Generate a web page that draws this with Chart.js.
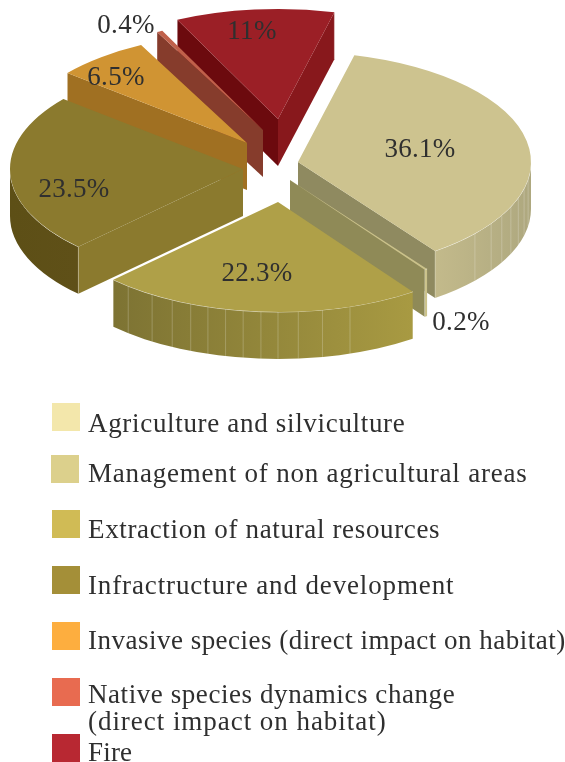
<!DOCTYPE html>
<html>
<head>
<meta charset="utf-8">
<style>
  html, body { margin: 0; padding: 0; background: #fff; }
  canvas { display: block; }
</style>
<script src="https://cdn.jsdelivr.net/npm/chart.js@4"></script>
</head>
<body>
<canvas id="myChart" width="565" height="762"></canvas>
<script>
const categories = [
  "Agriculture and silviculture",
  "Management of non agricultural areas",
  "Extraction of natural resources",
  "Infractructure and development",
  "Invasive species (direct impact on habitat)",
  "Native species dynamics change",
  "Fire",
];
const values = [36.1, 0.2, 22.3, 23.5, 6.5, 0.4, 11];

// colours
const legendColors = ["#f3e7ab", "#dcd08c", "#d0bb55", "#a48f38", "#fdae3f", "#e86b50", "#b82832"];
const topColors = ["#cdc38f", "#cbc28a", "#afa048", "#8b7a2e", "#d09433", "#c0604a", "#9b1f26"];
const rimColors = [["#c3ba8b", "#aea87f"], ["#cbc28a", "#cbc28a"], ["#7d7333", "#a89a42"], ["#5d4f16", "#5f5018"], ["#a07022", "#a07022"], ["#863c2c", "#863c2c"], ["#88181c", "#88181c"]];
const startWallColors = ["#88181c", "#8f8a57", "#7d7333", "#8b7a2e", "#a07022", "#863c2c", "#6c0a0e"];
const endWallColors = ["#8f8a60", "#8f8a57", "#a89a42", "#8b7a2e", "#a07022", "#863c2c", "#88181c"];

// how far each slice is pulled away from the pie centre
const explode = [[15.5, -3], [7.5, 15], [-4.5, 37], [-39.5, 4], [-35.5, -22], [-19.5, -35], [-4.5, -46]];
const paintOrder = [6, 5, 4, 0, 1, 3, 2];
const facets = [[9, 14, 19, 24, 29, 34, 40.6], [], [72, 79, 85, 90, 94.2, 98.6, 103, 107.5, 112, 117, 122.7, 130], [], [], [], []];

// value labels: centre x, baseline y
const labelPos = [[420, 157], [461, 330], [257, 281], [74, 197], [116, 85], [126, 33], [252, 39]];

// legend rows: box top, text baselines, letter spacing to reach the old line widths
const legendTops = [403, 455, 510, 566, 622, 678, 734];
const legendBoxX = [52, 51, 52, 52, 52, 52, 52];
const legendBase = [432, 482, 538, 594, 649, 703, 761];
const legendSpacing = [0.68, 0.8, 0.65, 0.87, 0.49, 0.57, 0.2];

const FONT = '27px "Liberation Serif"';
const TEXT_COLOR = "#2f2f2f";
const RX = 233;
const RY = 110;
const DEPTH = 47;

function ptAt(a, r, ang) {
  return { x: a.x + Math.cos(ang) * r, y: a.y + Math.sin(ang) * r * (RY / RX) };
}

function drawRim(ctx, a, i, from, to) {
  const s = Math.max(from, 0);
  const e = Math.min(to, Math.PI);
  if (e <= s) return;
  const p0 = ptAt(a, RX, s);
  const p1 = ptAt(a, RX, e);
  const g = ctx.createLinearGradient(p1.x, 0, p0.x, 0);
  g.addColorStop(0, rimColors[i][0]);
  g.addColorStop(1, rimColors[i][1]);
  ctx.fillStyle = g;
  ctx.beginPath();
  ctx.ellipse(a.x, a.y, RX, RY, 0, s, e);
  ctx.ellipse(a.x, a.y + DEPTH, RX, RY, 0, e, s, true);
  ctx.closePath();
  ctx.fill();
  ctx.strokeStyle = "rgba(255,255,255,0.22)";
  ctx.lineWidth = 1;
  facets[i].forEach((deg) => {
    const p = ptAt(a, RX, (deg * Math.PI) / 180);
    ctx.beginPath();
    ctx.moveTo(p.x, p.y);
    ctx.lineTo(p.x, p.y + DEPTH);
    ctx.stroke();
  });
  ctx.strokeStyle = "rgba(255,255,255,0.6)";
  ctx.beginPath();
  ctx.ellipse(a.x, a.y, RX, RY, 0, s, e);
  ctx.stroke();
}

function drawWall(ctx, a, ang, color) {
  const p = ptAt(a, RX, ang);
  ctx.fillStyle = color;
  ctx.beginPath();
  ctx.moveTo(a.x, a.y);
  ctx.lineTo(p.x, p.y);
  ctx.lineTo(p.x, p.y + DEPTH);
  ctx.lineTo(a.x, a.y + DEPTH);
  ctx.closePath();
  ctx.fill();
  ctx.strokeStyle = "rgba(255,255,255,0.25)";
  ctx.lineWidth = 1;
  ctx.beginPath();
  ctx.moveTo(p.x, p.y);
  ctx.lineTo(p.x, p.y + DEPTH);
  ctx.stroke();
}

const pie3d = {
  id: "pie3d",
  beforeDatasetsDraw(chart) {
    const ctx = chart.ctx;
    const arcs = chart.getDatasetMeta(0).data;
    paintOrder.forEach((i) => {
      const arc = arcs[i];
      const a = { x: arc.x + explode[i][0], y: arc.y + explode[i][1] };
      const start = arc.startAngle;
      const end = arc.endAngle;

      // sides first, top face goes over them
      drawRim(ctx, a, i, start, end);
      if (Math.cos(start) < 0) drawWall(ctx, a, start, startWallColors[i]);
      if (Math.cos(end) > 0) drawWall(ctx, a, end, endWallColors[i]);

      ctx.save();
      ctx.translate(a.x, a.y);
      ctx.scale(1, RY / RX);
      ctx.translate(-arc.x, -arc.y);
      arc.draw(ctx);
      ctx.restore();
    });
    return false;
  },
  afterDraw(chart) {
    const ctx = chart.ctx;
    ctx.save();
    ctx.font = FONT;
    ctx.fillStyle = TEXT_COLOR;
    ctx.textBaseline = "alphabetic";

    // value labels
    ctx.textAlign = "center";
    ctx.letterSpacing = "0.3px";
    values.forEach((v, i) => {
      ctx.fillText(v + "%", labelPos[i][0], labelPos[i][1]);
    });

    // legend
    ctx.textAlign = "left";
    categories.forEach((c, i) => {
      ctx.fillStyle = legendColors[i];
      ctx.fillRect(legendBoxX[i], legendTops[i], 28, 28);
      ctx.fillStyle = TEXT_COLOR;
      ctx.letterSpacing = legendSpacing[i] + "px";
      ctx.fillText(c, 88, legendBase[i]);
    });
    ctx.letterSpacing = "0.96px";
    ctx.fillText("(direct impact on habitat)", 88, 730);
    ctx.restore();
  },
};

new Chart(document.getElementById("myChart").getContext("2d"), {
  type: "pie",
  plugins: [pie3d],
  data: {
    labels: categories,
    datasets: [
      {
        data: values,
        backgroundColor: topColors,
        borderWidth: 0,
        radius: RX,
      },
    ],
  },
  options: {
    responsive: false,
    animation: false,
    rotation: 14,
    layout: { padding: { bottom: 432 } },
    plugins: {
      legend: { display: false },
      tooltip: { enabled: false },
    },
  },
});
</script>
</body>
</html>
